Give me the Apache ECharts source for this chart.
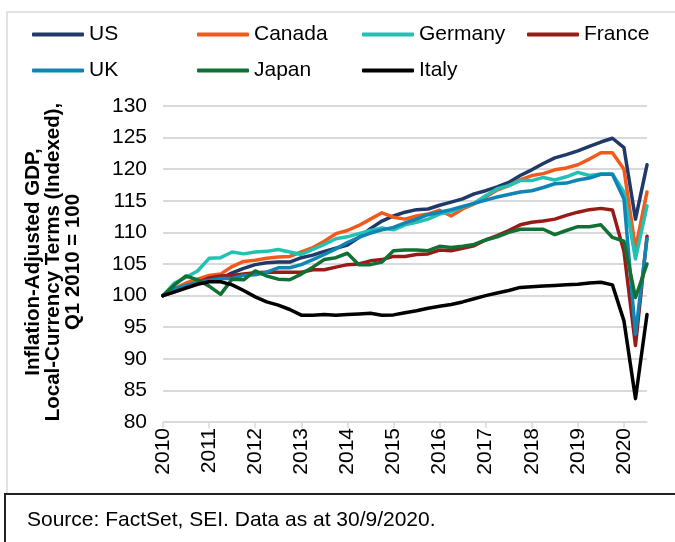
<!DOCTYPE html>
<html>
<head>
<meta charset="utf-8">
<script src="https://cdn.jsdelivr.net/npm/echarts@6/dist/echarts.min.js"></script>
<style>
  html, body { margin: 0; padding: 0; background: #fff; }
  #chart { width: 675px; height: 542px; }
</style>
</head>
<body>
<div id="chart"></div>
<script>
// quarterly, Q1 2010 .. Q3 2020, indexed to Q1 2010 = 100
const years = ['2010', '2011', '2012', '2013', '2014', '2015', '2016', '2017', '2018', '2019', '2020'];
const lastQuarterOf2020 = 3;

const us = [100, 101.1, 101.7, 102.3, 102.4, 102.7, 103.6, 104.3, 104.9, 105.2, 105.3, 105.3, 106.0, 106.4, 107.0, 107.5, 108.0, 109.2, 110.6, 111.8, 112.6, 113.2, 113.6, 113.7, 114.3, 114.8, 115.3, 116.1, 116.6, 117.2, 117.9, 119.0, 119.9, 120.9, 121.8, 122.3, 122.9, 123.6, 124.3, 124.9, 123.4, 112.1, 120.7];
const canada = [100, 101.1, 102.0, 102.6, 103.2, 103.4, 104.6, 105.4, 105.6, 105.9, 106.1, 106.2, 106.9, 107.6, 108.6, 109.8, 110.3, 111.1, 112.1, 113.1, 112.4, 112.1, 112.6, 112.9, 113.5, 112.6, 113.7, 114.5, 115.6, 116.7, 117.4, 118.3, 119.0, 119.3, 119.9, 120.2, 120.7, 121.6, 122.6, 122.6, 120.0, 107.4, 116.4];
const germany = [100, 102.0, 102.9, 103.9, 105.9, 106.0, 106.9, 106.6, 106.9, 107.0, 107.3, 106.9, 106.5, 107.3, 108.1, 109.0, 109.3, 109.8, 110.3, 110.7, 110.4, 111.2, 111.6, 112.1, 112.9, 113.3, 114.0, 114.6, 115.8, 116.9, 117.4, 118.2, 118.2, 118.7, 118.3, 118.8, 119.5, 119.0, 119.25, 119.25, 116.4, 105.8, 114.2];
const france = [100, 100.6, 101.3, 102.0, 102.8, 103.1, 103.2, 103.4, 103.6, 103.7, 103.7, 103.7, 103.7, 104.1, 104.1, 104.5, 104.9, 105.0, 105.5, 105.7, 106.2, 106.2, 106.5, 106.6, 107.2, 107.1, 107.5, 107.9, 108.8, 109.5, 110.3, 111.2, 111.6, 111.8, 112.1, 112.7, 113.2, 113.6, 113.8, 113.55, 107.0, 92.1, 109.4];
const uk = [100, 101.1, 101.6, 102.1, 102.4, 102.7, 102.7, 103.2, 103.3, 103.7, 104.4, 104.4, 104.9, 105.7, 106.5, 107.4, 108.4, 109.2, 109.9, 110.4, 110.8, 111.5, 112.1, 112.8, 113.2, 113.6, 114.1, 114.6, 115.1, 115.6, 116.0, 116.4, 116.6, 117.1, 117.7, 117.8, 118.3, 118.6, 119.2, 119.2, 115.3, 93.9, 109.0];
const japan = [100, 101.7, 103.1, 102.5, 101.5, 100.2, 102.6, 102.5, 103.9, 103.1, 102.6, 102.5, 103.4, 104.5, 105.7, 106.0, 106.7, 104.9, 104.9, 105.3, 107.1, 107.2, 107.2, 107.1, 107.8, 107.6, 107.8, 108.1, 108.8, 109.3, 110.0, 110.5, 110.5, 110.5, 109.65, 110.3, 110.9, 110.9, 111.2, 109.2, 108.6, 99.7, 105.0];
const italy = [100, 100.6, 101.2, 101.8, 102.2, 102.2, 101.7, 100.8, 99.8, 99.0, 98.5, 97.8, 96.9, 96.9, 97.0, 96.9, 97.0, 97.1, 97.2, 96.9, 96.95, 97.3, 97.6, 98.0, 98.3, 98.6, 99.0, 99.5, 100.0, 100.4, 100.8, 101.3, 101.4, 101.5, 101.6, 101.7, 101.8, 102.0, 102.1, 101.7, 96.0, 83.7, 97.0];

const yTicks = { min: 80, max: 130, step: 5 };
const yTitle = 'Inflation-Adjusted GDP,\nLocal-Currency Terms (Indexed),\nQ1 2010 = 100';
const sourceNote = 'Source: FactSet, SEI. Data as at 30/9/2020.';

// category labels, one per quarter
const quarters = [];
years.forEach(function (y, k) {
  const n = k === years.length - 1 ? lastQuarterOf2020 : 4;
  for (let q = 1; q <= n; q++) quarters.push(y + ' Q' + q);
});

const FONT = '"Liberation Sans", Arial, Helvetica, sans-serif';
const GRID_GRAY = '#d9d9d9';

const seriesDefs = [
  { name: 'US', data: us, color: '#1f3a68' },
  { name: 'Canada', data: canada, color: '#f25a1d' },
  { name: 'Germany', data: germany, color: '#22c1b3' },
  { name: 'France', data: france, color: '#9a1a17' },
  { name: 'UK', data: uk, color: '#0f85b5' },
  { name: 'Japan', data: japan, color: '#117135' },
  { name: 'Italy', data: italy, color: '#000000' }
];

// legend laid out in 4 columns of 2 rows
const legendCols = [['US', 'UK'], ['Canada', 'Japan'], ['Germany', 'Italy'], ['France']];
const legends = legendCols.map(function (names, c) {
  return {
    orient: 'vertical',
    left: 27 + c * 165,
    top: 19,
    itemGap: 15,
    itemWidth: 52,
    itemHeight: 4,
    icon: 'roundRect',
    data: names,
    selectedMode: false,
    textStyle: { fontFamily: FONT, fontSize: 21, color: '#000' }
  };
});

const chart = echarts.init(document.getElementById('chart'));

chart.setOption({
  animation: false,
  backgroundColor: '#fff',
  legend: legends,
  grid: { left: 163, right: 28, top: 106, bottom: 120, containLabel: false },
  xAxis: {
    type: 'category',
    data: quarters,
    boundaryGap: false,
    axisLine: { lineStyle: { color: GRID_GRAY, width: 1.5 } },
    axisTick: { interval: 3, length: 6, lineStyle: { color: GRID_GRAY, width: 1.5 } },
    axisLabel: {
      interval: 3,
      rotate: 90,
      margin: 6,
      fontFamily: FONT,
      fontSize: 21,
      color: '#000',
      formatter: function (v) { return v.slice(0, 4); }
    },
    splitLine: { show: false }
  },
  yAxis: {
    type: 'value',
    min: yTicks.min,
    max: yTicks.max,
    interval: yTicks.step,
    axisLine: { show: false },
    axisTick: { show: false },
    axisLabel: { margin: 16, fontFamily: FONT, fontSize: 21, color: '#000' },
    splitLine: { lineStyle: { color: GRID_GRAY, width: 2 } }
  },
  series: seriesDefs.map(function (s) {
    return {
      name: s.name,
      type: 'line',
      data: s.data,
      showSymbol: false,
      symbol: 'none',
      color: s.color,
      lineStyle: { color: s.color, width: 3.5, cap: 'round', join: 'round' }
    };
  }),
  graphic: [
    // light frame round the chart area
    {
      type: 'rect',
      shape: { x: 7, y: 12, width: 700, height: 482 },
      style: { fill: 'none', stroke: '#d9d9d9', lineWidth: 1.5 },
      silent: true
    },
    // dark box for the source note
    {
      type: 'rect',
      shape: { x: 5, y: 494, width: 700, height: 60 },
      style: { fill: 'none', stroke: '#222', lineWidth: 2 },
      silent: true
    },
    {
      type: 'text',
      x: 53,
      y: 262,
      rotation: Math.PI / 2,
      style: {
        text: yTitle,
        fontFamily: FONT,
        fontSize: 20.5,
        fontWeight: 'bold',
        lineHeight: 20,
        fill: '#000',
        align: 'center',
        verticalAlign: 'middle'
      }
    },
    {
      type: 'text',
      x: 27,
      y: 520,
      style: {
        text: sourceNote,
        fontFamily: FONT,
        fontSize: 21,
        fill: '#000',
        align: 'left',
        verticalAlign: 'middle'
      }
    }
  ]
});
</script>
</body>
</html>
